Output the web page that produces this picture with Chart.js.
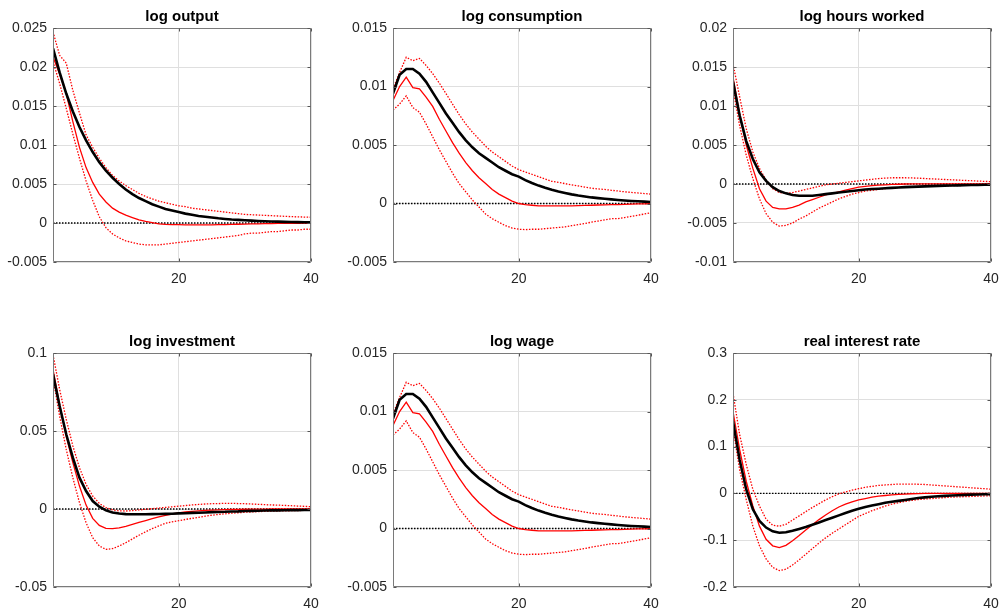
<!DOCTYPE html>
<html><head><meta charset="utf-8">
<script src="https://cdn.jsdelivr.net/npm/chart.js@4.4.1/dist/chart.umd.min.js"></script>
<style>
html,body{margin:0;padding:0;background:#fff;}
#wrap{position:relative;width:1003px;height:616px;overflow:hidden;background:#fff;}
canvas{position:absolute;}
</style></head><body><div id="wrap"></div>
<script>
// ---- data ----
const periods = [1,2,3,4,5,6,7,8,9,10,11,12,13,14,15,16,17,18,19,20,21,22,23,24,25,26,27,28,29,30,31,32,33,34,35,36,37,38,39,40];
const xTicks = [20, 40];

const titles = ['log output','log consumption','log hours worked','log investment','log wage','real interest rate'];

// log output
const outBlack = [0.0224,0.0193,0.0166,0.0143,0.0123,0.0106,0.0091,0.0078,0.0067,0.0058,0.0050,0.0043,0.0037,0.0032,0.0028,0.0024,0.0021,0.0018,0.0016,0.0014,0.0012,0.00105,0.0009,0.0008,0.0007,0.0006,0.00052,0.00045,0.0004,0.00035,0.0003,0.00026,0.00023,0.0002,0.00017,0.00015,0.00013,0.00011,0.0001,0.00009];
const outRed = [0.0213,0.0191,0.0166,0.0130,0.0097,0.0071,0.0052,0.0037,0.0027,0.0019,0.0014,0.0010,0.0007,0.0004,0.0002,0.00005,-0.0001,-0.00017,-0.0002,-0.00022,-0.00024,-0.00025,-0.00025,-0.00024,-0.00023,-0.00021,-0.0002,-0.00018,-0.00016,-0.00014,-0.00012,-0.0001,-0.00009,-0.00007,-0.00006,-0.00005,-0.00004,-0.00003,-0.00002,-0.00001];
const outUp = [0.0245,0.0215,0.0205,0.0170,0.0141,0.0113,0.0097,0.0083,0.0071,0.0061,0.0054,0.0048,0.0043,0.0038,0.0034,0.0031,0.0028,0.0026,0.0024,0.0022,0.0021,0.0019,0.0018,0.0017,0.0016,0.0015,0.0014,0.0013,0.0012,0.0011,0.00106,0.00102,0.00098,0.00094,0.0009,0.00086,0.00082,0.00079,0.00076,0.00073];
const outLow = [0.0207,0.0179,0.0147,0.0114,0.0083,0.0054,0.0029,0.0008,-0.0006,-0.0014,-0.0019,-0.0023,-0.0025,-0.0027,-0.0028,-0.0028,-0.0028,-0.0027,-0.0026,-0.0025,-0.0024,-0.0023,-0.0022,-0.0021,-0.0020,-0.0019,-0.0018,-0.0017,-0.0016,-0.0014,-0.0013,-0.0013,-0.0012,-0.0011,-0.0011,-0.0010,-0.0009,-0.0009,-0.0008,-0.0008];
const outTicks = [-0.005,0,0.005,0.01,0.015,0.02,0.025];

// log consumption
const consBlack = [0.0094,0.0110,0.0115,0.0115,0.0111,0.0104,0.0095,0.0086,0.0077,0.0069,0.0061,0.0054,0.0048,0.0043,0.0039,0.0035,0.0031,0.0028,0.0025,0.0023,0.0020,0.00175,0.00153,0.00134,0.00117,0.00102,0.0009,0.00078,0.00068,0.0006,0.00052,0.00046,0.0004,0.00035,0.0003,0.00026,0.00022,0.00019,0.00016,0.00013];
const consRed = [0.0088,0.0100,0.0108,0.0099,0.0098,0.0091,0.0083,0.0072,0.0062,0.0052,0.0043,0.0035,0.0028,0.0022,0.0017,0.0012,0.0008,0.0005,0.0002,0.0000,-0.0001,-0.00015,-0.0002,-0.0002,-0.0002,-0.0002,-0.0002,-0.0002,-0.00018,-0.00016,-0.00015,-0.00013,-0.00012,-0.0001,-0.00009,-0.00007,-0.00006,-0.00004,-0.00003,-0.00002];
const consUp = [0.0098,0.0112,0.0125,0.0122,0.0124,0.0118,0.0111,0.0103,0.0094,0.0085,0.0076,0.0068,0.0061,0.0055,0.0049,0.0044,0.0040,0.0036,0.0032,0.0029,0.0027,0.0025,0.0023,0.0021,0.0019,0.0018,0.0017,0.0016,0.0015,0.0014,0.0013,0.00125,0.0012,0.00113,0.00107,0.0010,0.00095,0.0009,0.00085,0.0008];
const consLow = [0.0080,0.0085,0.0092,0.0082,0.0078,0.0068,0.0057,0.0046,0.0036,0.0026,0.0017,0.0010,0.0003,-0.0003,-0.0009,-0.0013,-0.0016,-0.0019,-0.0021,-0.0022,-0.00223,-0.0022,-0.0022,-0.00215,-0.0021,-0.00205,-0.0020,-0.0019,-0.0018,-0.0017,-0.0016,-0.0015,-0.0014,-0.0013,-0.0013,-0.0012,-0.0011,-0.0010,-0.0009,-0.0008];
const consTicks = [-0.005,0,0.005,0.01,0.015];

// log hours worked
const hrsBlack = [0.0131,0.0088,0.0055,0.0032,0.0015,0.0004,-0.0004,-0.0009,-0.0012,-0.0014,-0.0015,-0.0015,-0.0015,-0.0014,-0.0013,-0.0012,-0.0011,-0.0010,-0.0009,-0.0008,-0.0007,-0.00065,-0.0006,-0.00055,-0.0005,-0.00045,-0.0004,-0.00037,-0.00034,-0.0003,-0.00027,-0.00024,-0.00021,-0.00019,-0.00017,-0.00015,-0.00013,-0.00012,-0.0001,-0.00009];
const hrsRed = [0.0137,0.0090,0.0050,0.0020,-0.0006,-0.0022,-0.0030,-0.0032,-0.0032,-0.0030,-0.0027,-0.0023,-0.0020,-0.0017,-0.0014,-0.0012,-0.0010,-0.0008,-0.0006,-0.0004,-0.0003,-0.0002,-0.00015,-0.0001,-0.00006,-0.00003,0,0.00001,0.00002,0.00002,0.00002,0.00002,0.00001,0.00001,0,0,0,0,0,0];
const hrsUp = [0.0154,0.0112,0.0071,0.0041,0.0020,0.0005,-0.0006,-0.0011,-0.0012,-0.0011,-0.0009,-0.0007,-0.0005,-0.0003,-0.0001,0.0000,0.0001,0.0002,0.0003,0.0004,0.0005,0.0006,0.0007,0.00075,0.0008,0.0008,0.0008,0.00078,0.00075,0.0007,0.00066,0.00062,0.00058,0.00054,0.0005,0.00046,0.00042,0.00038,0.00034,0.0003];
const hrsLow = [0.0122,0.0075,0.0037,0.0007,-0.0019,-0.0038,-0.0049,-0.0054,-0.0053,-0.0050,-0.0045,-0.0041,-0.0036,-0.0031,-0.0027,-0.0023,-0.0019,-0.0016,-0.0013,-0.0011,-0.0009,-0.0008,-0.0007,-0.0006,-0.0005,-0.00045,-0.0004,-0.00035,-0.00032,-0.0003,-0.00028,-0.00026,-0.00024,-0.00022,-0.0002,-0.00018,-0.00016,-0.00014,-0.00012,-0.0001];
const hrsTicks = [-0.01,-0.005,0,0.005,0.01,0.015,0.02];

// log investment
const invBlack = [0.0863,0.0660,0.0479,0.0329,0.0201,0.0115,0.0051,0.0015,-0.0009,-0.0022,-0.0029,-0.0033,-0.0034,-0.0034,-0.0034,-0.0033,-0.0032,-0.0031,-0.0030,-0.0028,-0.0027,-0.0025,-0.0024,-0.0022,-0.0020,-0.0019,-0.0018,-0.0016,-0.0015,-0.0013,-0.0012,-0.0011,-0.0010,-0.0009,-0.0009,-0.0008,-0.0007,-0.0007,-0.0006,-0.0006];
const invRed = [0.0895,0.0670,0.0468,0.0297,0.0147,0.0025,-0.0060,-0.0105,-0.0124,-0.0126,-0.0121,-0.0111,-0.0099,-0.0086,-0.0074,-0.0062,-0.0051,-0.0041,-0.0032,-0.0025,-0.0019,-0.0015,-0.0012,-0.0009,-0.0007,-0.0005,-0.0004,-0.0003,-0.0002,-0.00015,-0.0001,-0.0001,-0.00005,0,0,0,0,0,0,0];
const invUp = [0.0990,0.0767,0.0575,0.0404,0.0265,0.0158,0.0083,0.0036,0.0009,-0.0006,-0.0012,-0.0013,-0.0010,-0.0006,-0.0002,0.0002,0.0006,0.0010,0.0014,0.0018,0.0022,0.0026,0.0029,0.0032,0.0034,0.0035,0.0036,0.0036,0.0035,0.0034,0.0032,0.0030,0.0028,0.0026,0.0025,0.0023,0.0021,0.0019,0.0017,0.0015];
const invLow = [0.0840,0.0596,0.0382,0.0200,0.0041,-0.0088,-0.0184,-0.0237,-0.0259,-0.0254,-0.0237,-0.0216,-0.0192,-0.0168,-0.0146,-0.0126,-0.0108,-0.0092,-0.0082,-0.0075,-0.0067,-0.0060,-0.0053,-0.0046,-0.0040,-0.0035,-0.0031,-0.0027,-0.0024,-0.0021,-0.0019,-0.0017,-0.0015,-0.0014,-0.0013,-0.0012,-0.0011,-0.0010,-0.0009,-0.0009];
const invTicks = [-0.05,0,0.05,0.1];

// log wage
const wageBlack = [0.0094,0.0110,0.0115,0.0115,0.0111,0.0104,0.0095,0.0086,0.0077,0.0069,0.0061,0.0054,0.0048,0.0043,0.0039,0.0035,0.0031,0.0028,0.0025,0.0023,0.0020,0.00175,0.00153,0.00134,0.00117,0.00102,0.0009,0.00078,0.00068,0.0006,0.00052,0.00046,0.0004,0.00035,0.0003,0.00026,0.00022,0.00019,0.00016,0.00013];
const wageRed = [0.0088,0.0100,0.0108,0.0099,0.0098,0.0091,0.0083,0.0072,0.0062,0.0052,0.0043,0.0035,0.0028,0.0022,0.0017,0.0012,0.0008,0.0005,0.0002,0.0000,-0.0001,-0.00015,-0.0002,-0.0002,-0.0002,-0.0002,-0.0002,-0.0002,-0.00018,-0.00016,-0.00015,-0.00013,-0.00012,-0.0001,-0.00009,-0.00007,-0.00006,-0.00004,-0.00003,-0.00002];
const wageUp = [0.0098,0.0112,0.0125,0.0122,0.0124,0.0118,0.0111,0.0103,0.0094,0.0085,0.0076,0.0068,0.0061,0.0055,0.0049,0.0044,0.0040,0.0036,0.0032,0.0029,0.0027,0.0025,0.0023,0.0021,0.0019,0.0018,0.0017,0.0016,0.0015,0.0014,0.0013,0.00125,0.0012,0.00113,0.00107,0.0010,0.00095,0.0009,0.00085,0.0008];
const wageLow = [0.0080,0.0085,0.0092,0.0082,0.0078,0.0068,0.0057,0.0046,0.0036,0.0026,0.0017,0.0010,0.0003,-0.0003,-0.0009,-0.0013,-0.0016,-0.0019,-0.0021,-0.0022,-0.00223,-0.0022,-0.0022,-0.00215,-0.0021,-0.00205,-0.0020,-0.0019,-0.0018,-0.0017,-0.0016,-0.0015,-0.0014,-0.0013,-0.0013,-0.0012,-0.0011,-0.0010,-0.0009,-0.0008];
const wageTicks = [-0.005,0,0.005,0.01,0.015];

// real interest rate
const rateBlack = [0.154,0.072,0.0085,-0.034,-0.059,-0.073,-0.081,-0.084,-0.083,-0.080,-0.076,-0.072,-0.067,-0.062,-0.057,-0.052,-0.047,-0.042,-0.037,-0.033,-0.029,-0.026,-0.023,-0.020,-0.018,-0.016,-0.014,-0.012,-0.010,-0.0085,-0.0073,-0.0062,-0.0053,-0.0045,-0.0038,-0.0032,-0.0027,-0.0022,-0.0018,-0.0015];
const rateRed = [0.175,0.094,0.026,-0.027,-0.070,-0.098,-0.112,-0.116,-0.111,-0.101,-0.090,-0.078,-0.067,-0.056,-0.046,-0.037,-0.029,-0.023,-0.018,-0.014,-0.011,-0.008,-0.006,-0.0045,-0.0032,-0.0022,-0.0014,-0.0008,-0.0004,-0.0001,0.0001,0.0002,0.0002,0.0002,0.0002,0.0002,0.0001,0.0001,0.0001,0];
const rateUp = [0.214,0.126,0.062,0.0085,-0.027,-0.055,-0.068,-0.070,-0.066,-0.057,-0.048,-0.039,-0.030,-0.022,-0.014,-0.007,-0.001,0.003,0.007,0.010,0.013,0.015,0.017,0.018,0.019,0.020,0.020,0.020,0.0195,0.019,0.018,0.017,0.016,0.015,0.014,0.013,0.012,0.011,0.010,0.009];
const rateLow = [0.140,0.051,-0.013,-0.070,-0.112,-0.140,-0.158,-0.165,-0.162,-0.153,-0.142,-0.130,-0.118,-0.106,-0.095,-0.085,-0.076,-0.067,-0.058,-0.049,-0.043,-0.037,-0.032,-0.027,-0.023,-0.020,-0.017,-0.015,-0.013,-0.012,-0.011,-0.010,-0.009,-0.008,-0.0075,-0.007,-0.0065,-0.006,-0.0055,-0.005];
const rateTicks = [-0.2,-0.1,0,0.1,0.2,0.3];

const zeroLevel = [0, 0];

// ---- build ----
const FONT = "'Liberation Sans', Arial, Helvetica, sans-serif";
const series = [
  [outBlack, outRed, outUp, outLow, outTicks],
  [consBlack, consRed, consUp, consLow, consTicks],
  [hrsBlack, hrsRed, hrsUp, hrsLow, hrsTicks],
  [invBlack, invRed, invUp, invLow, invTicks],
  [wageBlack, wageRed, wageUp, wageLow, wageTicks],
  [rateBlack, rateRed, rateUp, rateLow, rateTicks]
];
const colLeft = [0, 340, 680];
const rowTop = [0, 325];
const CW = 364, CH = 300;

const boxPlugin = {
  id: 'matlabBox',
  afterDraw(chart) {
    const {ctx, chartArea: a, scales} = chart;
    ctx.save();
    ctx.strokeStyle = '#7a7a7a';
    ctx.lineWidth = 1;
    ctx.beginPath();
    const L = Math.round(a.left) + 0.5, R = Math.round(a.right) - 0.5;
    const T = Math.round(a.top) + 0.5, B = Math.round(a.bottom) - 0.5;
    ctx.rect(L, T, R - L, B - T);
    ctx.stroke();
    ctx.strokeStyle = '#555';
    ctx.beginPath();
    scales.y.ticks.forEach(t => {
      const y = Math.round(scales.y.getPixelForValue(t.value)) + 0.5;
      ctx.moveTo(L, y); ctx.lineTo(L + 3, y);
      ctx.moveTo(R, y); ctx.lineTo(R - 3, y);
    });
    scales.x.ticks.forEach(t => {
      const x = Math.round(scales.x.getPixelForValue(t.value)) + 0.5;
      ctx.moveTo(x, B); ctx.lineTo(x, B - 3);
      ctx.moveTo(x, T); ctx.lineTo(x, T + 3);
    });
    ctx.stroke();
    ctx.restore();
  }
};

const wrap = document.getElementById('wrap');
series.forEach((s, i) => {
  const [black, red, up, low, yt] = s;
  const cv = document.createElement('canvas');
  cv.width = CW; cv.height = CH;
  cv.style.left = colLeft[i % 3] + 'px';
  cv.style.top = rowTop[Math.floor(i / 3)] + 'px';
  cv.style.width = CW + 'px'; cv.style.height = CH + 'px';
  wrap.appendChild(cv);
  const pts = arr => periods.map((p, k) => ({x: p, y: arr[k]}));
  new Chart(cv, {
    type: 'line',
    data: {
      datasets: [
        {data: pts(black), borderColor: '#000000', borderWidth: 2.6},
        {data: pts(red), borderColor: '#ff0000', borderWidth: 1.3},
        {data: pts(up), borderColor: '#ff0000', borderWidth: 1.3, borderDash: [1.5, 1.5]},
        {data: pts(low), borderColor: '#ff0000', borderWidth: 1.3, borderDash: [1.5, 1.5]},
        {data: [{x: periods[0], y: zeroLevel[0]}, {x: periods[periods.length - 1], y: zeroLevel[1]}], borderColor: '#000000', borderWidth: 1.4, borderDash: [1.5, 1.5]}
      ]
    },
    options: {
      responsive: false,
      animation: false,
      devicePixelRatio: 1,
      events: [],
      layout: {padding: {top: 8, right: 0, bottom: 0, left: 0}},
      elements: {point: {radius: 0}, line: {tension: 0, fill: false}},
      plugins: {
        legend: {display: false},
        tooltip: {enabled: false},
        title: {display: true, text: titles[i], color: '#000', font: {family: FONT, size: 15, weight: 'bold'}, padding: {top: 0, bottom: 2}}
      },
      scales: {
        x: {
          type: 'linear', min: 1, max: 40,
          afterBuildTicks: sc => { sc.ticks = xTicks.map(v => ({value: v})); },
          afterFit: sc => { sc.height = 38; },
          grid: {color: '#dfdfdf', lineWidth: 1, drawTicks: false},
          border: {display: false},
          ticks: {color: '#262626', padding: 9, maxRotation: 0, font: {family: FONT, size: 14}, callback: v => String(v)}
        },
        y: {
          type: 'linear', position: 'left', min: yt[0], max: yt[yt.length - 1],
          afterBuildTicks: sc => { sc.ticks = yt.map(v => ({value: v})); },
          afterFit: sc => { sc.width = 53; },
          grid: {color: '#dfdfdf', lineWidth: 1, drawTicks: false},
          border: {display: false},
          ticks: {color: '#262626', padding: 6, font: {family: FONT, size: 14}, callback: v => String(v)}
        },
        yPad: {
          type: 'linear', position: 'right', min: 0, max: 1, display: true,
          afterFit: sc => { sc.width = 53; },
          grid: {display: false, drawTicks: false},
          border: {display: false},
          ticks: {display: false}
        }
      }
    },
    plugins: [boxPlugin]
  });
});
</script>
</body></html>
